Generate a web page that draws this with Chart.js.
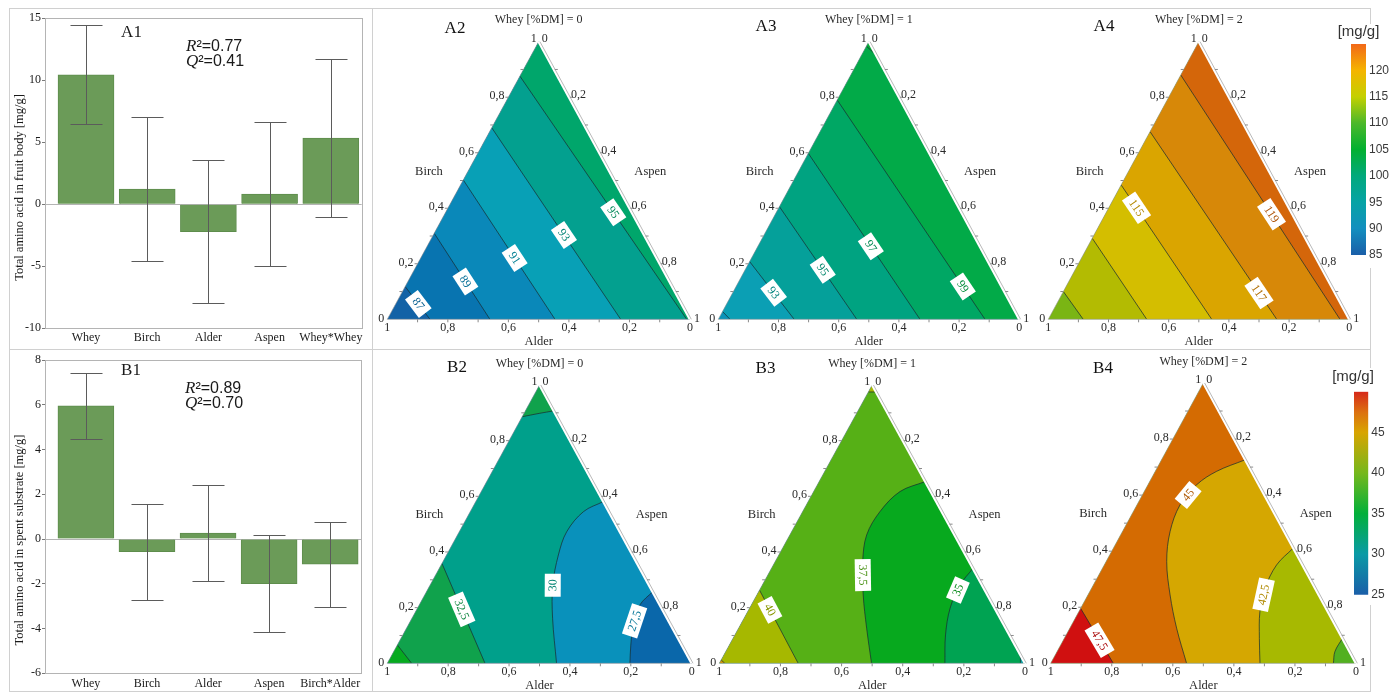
<!DOCTYPE html>
<html>
<head>
<meta charset="utf-8">
<script src="https://cdn.jsdelivr.net/npm/chart.js@4.4.1/dist/chart.umd.min.js"></script>
<style>
  html, body { margin: 0; padding: 0; background: #fff; }
  #page { position: relative; width: 1396px; height: 695px; overflow: hidden; background: #fff; }
  #page canvas { position: absolute; }
  .rule { position: absolute; background: #d0d0d0; }
</style>
</head>
<body>
<div id="page">
  <div class="rule" style="left:9px;top:8px;width:1362px;height:1px"></div>
  <div class="rule" style="left:9px;top:691px;width:1362px;height:1px"></div>
  <div class="rule" style="left:9px;top:8px;width:1px;height:684px"></div>
  <div class="rule" style="left:1370px;top:8px;width:1px;height:684px"></div>
  <div class="rule" style="left:372px;top:8px;width:1px;height:684px"></div>
  <div class="rule" style="left:9px;top:349px;width:1362px;height:1px"></div>
</div>
<script>
// ---------------- model coefficients (effect plots) ----------------
const fruitTerms = ['Whey', 'Birch', 'Alder', 'Aspen', 'Whey*Whey'];
const fruitCoef = [10.45, 1.23, -2.2, 0.83, 5.35];
const fruitConf = [3.97, 5.8, 5.77, 5.82, 6.35];
const fruitFit = ['0.77', '0.41'];          // R², Q²
const fruitAxis = [-10, 15, 5];             // min, max, step

const substrateTerms = ['Whey', 'Birch', 'Alder', 'Aspen', 'Birch*Alder'];
const substrateCoef = [5.95, -0.57, 0.27, -2.0, -1.12];
const substrateConf = [1.47, 2.14, 2.14, 2.16, 1.9];
const substrateFit = ['0.89', '0.70'];
const substrateAxis = [-6, 8, 2];

// ---------------- response contours (mixture triangles) ----------------
// Whey level of each slice, in %DM
const wheySlices = [0, 1, 2];
// Each contour is a list of [birch, aspen] fractions (alder = 1 - birch - aspen).
// Points run so that the higher response lies on the side met when following
// the triangle counter-clockwise from the last point back to the first.
const fruitW0Levels = [87, 89, 91, 93, 95];
const fruitW0Paths = [
  [[0.118, 0], [0, 0.141]],
  [[0.31, 0], [0, 0.339]],
  [[0.502, 0], [0, 0.554]],
  [[0.69, 0], [0, 0.771]],
  [[0.876, 0], [0, 0.989]]
];
const fruitW1Levels = [91, 93, 95, 97, 99, 101];
const fruitW1Paths = [
  [[0.028, 0], [0, 0.039]],
  [[0.208, 0], [0, 0.252]],
  [[0.406, 0], [0, 0.46]],
  [[0.598, 0], [0, 0.67]],
  [[0.79, 0], [0, 0.886]],
  [[0.984, 0], [0.952, 0.048]]
];
const fruitW2Levels = [111, 113, 115, 117, 119];
const fruitW2Paths = [
  [[0.1, 0], [0, 0.116]],
  [[0.292, 0], [0, 0.327]],
  [[0.484, 0], [0, 0.543]],
  [[0.676, 0], [0, 0.759]],
  [[0.88, 0], [0, 0.969]]
];
const substrateW0Levels = [27.5, 30, 32.5, 32.5, 35];
const substrateW0Paths = [
  [[0, 0.797], [0.066, 0.767], [0.138, 0.739], [0.21, 0.725], [0.257, 0.743]],
  [[0, 0.556], [0.162, 0.462], [0.281, 0.403], [0.389, 0.3675], [0.473, 0.353], [0.545, 0.372], [0.581, 0.419]],
  [[0, 0.321], [0.359, 0]],
  [[0.886, 0], [0.898, 0.05], [0.907, 0.093]],
  [[0, 0.08], [0.066, 0]]
];
const substrateW1Levels = [32.5, 35, 37.5, 40, 40, 42.5];
const substrateW1Paths = [
  [[0, 0.985], [0.03, 0.97]],
  [[0, 0.738], [0.102, 0.689], [0.198, 0.656], [0.281, 0.647], [0.341, 0.659]],
  [[0, 0.498], [0.126, 0.419], [0.2455, 0.348], [0.365, 0.2865], [0.461, 0.2515], [0.545, 0.253], [0.617, 0.2825], [0.653, 0.347]],
  [[0, 0.258], [0.263, 0]],
  [[0.975, 0], [0.975, 0.025]],
  [[0, 0.018], [0.012, 0]]
];
const substrateW2Levels = [40, 42.5, 45, 47.5];
const substrateW2Paths = [
  [[0, 0.926], [0.042, 0.91], [0.089, 0.911]],
  [[0, 0.6856], [0.089, 0.639], [0.1845, 0.593], [0.268, 0.568], [0.351, 0.5645], [0.411, 0.589]],
  [[0, 0.445], [0.125, 0.35], [0.244, 0.269], [0.363, 0.1985], [0.47, 0.156], [0.565, 0.141], [0.637, 0.1595], [0.685, 0.2012], [0.726, 0.274]],
  [[0, 0.205], [0.196, 0]]
];

// colour-bar ranges: min, max, step
const fruitScale = [85, 125, 5];
const substrateScale = [25, 50, 5];

// ---------------- styles ----------------
const SERIF = '"Liberation Serif", "Times New Roman", serif';
const SANS = '"Liberation Sans", Arial, sans-serif';

const fruitRamp = [[85, '#1a5ea8'], [90, '#138fbf'], [95, '#06a3a5'], [100, '#02a97c'], [105, '#02b030'],
                   [110, '#4cb82a'], [115, '#c4d000'], [120, '#f5b400'], [125, '#f26818']];
const substrateRamp = [[25, '#1a5ea8'], [30, '#0a9aa6'], [35, '#02b03a'], [40, '#76b81c'], [45, '#d8a400'],
                       [47.5, '#dc7010'], [50, '#d6281a']];

const fruitW0Style = { base: '#1262a6', fills: ['#0874b0', '#0a88b9', '#08a0b6', '#03a08f', '#00a66b'],
                       labelAt: [0.53, 0.56, 0.56, 0.56, 0.56] };
const fruitW1Style = { base: '#0a93b8', fills: ['#0b9fb4', '#05a09a', '#00a381', '#00a764', '#02aa48', '#06ac38'],
                       labelAt: [null, 0.54, 0.56, 0.56, 0.85, null] };
const fruitW2Style = { base: '#7ab514', fills: ['#b3bb02', '#d4be00', '#daa500', '#d78808', '#d4660a'],
                       labelAt: [null, null, 0.17, 0.86, 0.57] };
const substrateW0Style = { base: '#0a67aa', fills: ['#0991bb', '#00a08b', '#10a24c', '#10a24c', '#06aa20'],
                           labelAt: [0.55, 0.43, 0.54, null, null] };
const substrateW1Style = { base: '#0aa0a2', fills: ['#00a352', '#07a91e', '#56b016', '#a6b800', '#a6b800', '#d49400'],
                           labelAt: [null, 0.74, 0.42, 0.73, null, null] };
const substrateW2Style = { base: '#52b020', fills: ['#a7b901', '#d5a701', '#d46b02', '#d01010'],
                           labelAt: [null, 0.55, 0.72, 0.42] };

const page = document.getElementById('page');
function addCanvas(b) {
  const c = document.createElement('canvas');
  c.width = b.w; c.height = b.h;
  Object.assign(c.style, { left: b.x + 'px', top: b.y + 'px', width: b.w + 'px', height: b.h + 'px' });
  page.appendChild(c);
  return c;
}
function shade(hex, f) {
  const n = parseInt(hex.slice(1), 16);
  const r = Math.round(((n >> 16) & 255) * f), g = Math.round(((n >> 8) & 255) * f), b = Math.round((n & 255) * f);
  return `rgb(${r},${g},${b})`;
}

// ---------------- effect plots ----------------
function effectPanel(cfg) {
  const c = addCanvas(cfg.box);
  const bx = cfg.box.x, by = cfg.box.y, area = cfg.area;
  const [yMin, yMax, yStep] = cfg.axis;
  const decor = {
    id: 'effectDecor',
    afterDatasetsDraw(chart) {
      const { ctx } = chart, ys = chart.scales.y;
      ctx.save();
      ctx.strokeStyle = '#5b5b5b'; ctx.lineWidth = 1;
      chart.getDatasetMeta(0).data.forEach((bar, i) => {
        const x = Math.round(bar.x) + 0.5;
        const hi = Math.round(ys.getPixelForValue(cfg.coef[i] + cfg.conf[i])) + 0.5;
        const lo = Math.round(ys.getPixelForValue(cfg.coef[i] - cfg.conf[i])) + 0.5;
        ctx.beginPath();
        ctx.moveTo(x, hi); ctx.lineTo(x, lo);
        ctx.moveTo(x - 16, hi); ctx.lineTo(x + 16, hi);
        ctx.moveTo(x - 16, lo); ctx.lineTo(x + 16, lo);
        ctx.stroke();
      });
      ctx.restore();
    },
    afterDraw(chart) {
      const { ctx, chartArea: a } = chart;
      ctx.save();
      ctx.strokeStyle = '#b4b4b4'; ctx.lineWidth = 1;
      ctx.strokeRect(Math.round(a.left) + 0.5, Math.round(a.top) + 0.5, Math.round(a.right - a.left), Math.round(a.bottom - a.top));
      ctx.fillStyle = '#1a1a1a'; ctx.textBaseline = 'middle';
      ctx.save();
      ctx.translate(cfg.titleAt[0] - bx, cfg.titleAt[1] - by);
      ctx.rotate(-Math.PI / 2);
      ctx.font = `${cfg.titleSize}px ${SERIF}`; ctx.textAlign = 'center';
      ctx.fillText(cfg.title, 0, 0);
      ctx.restore();
      ctx.font = `17px ${SERIF}`; ctx.textAlign = 'center';
      ctx.fillText(cfg.tag, cfg.tagAt[0] - bx, cfg.tagAt[1] - by);
      ['R', 'Q'].forEach((sym, k) => {
        let x = cfg.fitAt[0] - bx;
        const y = cfg.fitAt[1] + k * 15 - by;
        ctx.textAlign = 'left';
        ctx.font = `italic 17px ${SERIF}`;
        ctx.fillText(sym, x, y);
        x += ctx.measureText(sym).width;
        ctx.font = `16px ${SANS}`;
        ctx.fillText('\u00B2=' + cfg.fit[k], x, y);
      });
      ctx.restore();
    }
  };
  new Chart(c, {
    type: 'bar',
    data: { datasets: [{ data: cfg.coef.map((v, i) => ({ x: i, y: v })), backgroundColor: '#6b9b58',
                         borderColor: '#5e8d4c', borderWidth: 1, barThickness: 56 }] },
    options: {
      responsive: false, animation: false, events: [],
      layout: { padding: { left: 0, right: bx + cfg.box.w - area.right, top: area.top - by, bottom: 0 } },
      scales: {
        x: {
          type: 'linear', min: -0.67, max: 4.505, offset: false,
          grid: { display: false, drawTicks: false, offset: false }, border: { display: false },
          afterBuildTicks: s => { s.ticks = cfg.terms.map((_, i) => ({ value: i })); },
          afterFit: s => { s.height = by + cfg.box.h - area.bottom; },
          ticks: { autoSkip: false, maxRotation: 0, padding: cfg.xPad, color: '#1a1a1a',
                   font: { family: SERIF, size: 12 }, callback: v => cfg.terms[v] }
        },
        y: {
          min: yMin, max: yMax,
          afterFit: s => { s.width = area.left - bx; },
          ticks: { stepSize: yStep, padding: 1, color: '#1a1a1a', font: { family: SERIF, size: 12 } },
          grid: { color: g => (g.tick && g.tick.value === 0 ? '#b4b4b4' : 'rgba(0,0,0,0)'),
                  tickColor: '#7a7a7a', tickLength: 3, drawTicks: true },
          border: { display: false }
        }
      },
      plugins: { legend: { display: false }, tooltip: { enabled: false } }
    },
    plugins: [decor]
  });
}

// ---------------- colour bars ----------------
function colorBar(cfg) {
  const c = addCanvas(cfg.box);
  const [lo, hi, step] = cfg.range;
  const bx = cfg.box.x, by = cfg.box.y, a = cfg.area;
  new Chart(c, {
    type: 'bar',
    data: { labels: [''], datasets: [{
      data: [[lo, hi]], borderWidth: 0, barPercentage: 1, categoryPercentage: 1,
      backgroundColor: ctx => {
        const ch = ctx.chart;
        if (!ch.chartArea) return cfg.ramp[0][1];
        const ys = ch.scales.y;
        const g = ch.ctx.createLinearGradient(0, ys.getPixelForValue(lo), 0, ys.getPixelForValue(hi));
        cfg.ramp.forEach(([v, col]) => g.addColorStop((v - lo) / (hi - lo), col));
        return g;
      }
    }] },
    options: {
      responsive: false, animation: false, events: [],
      layout: { padding: { left: a.left - bx, top: a.top - by, bottom: by + cfg.box.h - a.bottom, right: 0 } },
      scales: {
        x: { display: false },
        y: { position: 'right', min: lo, max: hi,
             afterFit: s => { s.width = bx + cfg.box.w - a.right; },
             grid: { display: false, drawTicks: false }, border: { display: false },
             ticks: { stepSize: step, padding: 3, color: '#3a3a3a', font: { family: SANS, size: 12 },
                      callback: v => (v === hi ? '' : v) } }
      },
      plugins: { legend: { display: false }, tooltip: { enabled: false } }
    },
    plugins: [{
      id: 'barDecor',
      beforeDraw(ch) { const ctx = ch.ctx; ctx.save(); ctx.fillStyle = '#fff'; ctx.fillRect(0, 0, ch.width, ch.height); ctx.restore(); },
      afterDraw(ch) {
        const ctx = ch.ctx; ctx.save();
        ctx.font = `15px ${SANS}`; ctx.fillStyle = '#333'; ctx.textAlign = 'center'; ctx.textBaseline = 'middle';
        ctx.fillText('[mg/g]', cfg.unitAt[0] - bx, cfg.unitAt[1] - by);
        ctx.restore();
      }
    }]
  });
}

// ---------------- mixture triangles ----------------
const toXY = p => ({ x: p[1] + p[0] / 2, y: p[0] });
function edgeParam(p) {
  const b = p[0], a = p[1], l = 1 - a - b, m = Math.min(a, b, l);
  if (m === b) return a;          // bottom edge, BL -> BR
  if (m === l) return 1 + b;      // right edge, BR -> top
  return 3 - b;                   // left edge, top -> BL
}
function cornersAfter(path) {
  const s0 = edgeParam(path[0]), s1 = edgeParam(path[path.length - 1]);
  const target = s0 <= s1 ? s0 + 3 : s0;
  const out = [];
  for (let k = 1; k <= 5; k++) if (k > s1 && k < target) out.push(k % 3);
  return out;
}
const fmt = v => String(v).replace('.', ',');

function ternaryPanel(p) {
  const c = addCanvas(p.box);
  const bx = p.box.x, by = p.box.y, t = p.tri, st = p.style;
  const verts = chart => {
    const xs = chart.scales.x, ys = chart.scales.y;
    return [{ x: xs.getPixelForValue(0), y: ys.getPixelForValue(0) },
            { x: xs.getPixelForValue(1), y: ys.getPixelForValue(0) },
            { x: xs.getPixelForValue(0.5), y: ys.getPixelForValue(1) }];
  };
  const lerp = (A, B, f) => ({ x: A.x + (B.x - A.x) * f, y: A.y + (B.y - A.y) * f });
  const plugin = {
    id: 'ternary',
    beforeDatasetsDraw(chart) {
      const ctx = chart.ctx, V = verts(chart), a = chart.chartArea;
      ctx.save();
      ctx.beginPath(); ctx.moveTo(V[0].x, V[0].y); ctx.lineTo(V[1].x, V[1].y); ctx.lineTo(V[2].x, V[2].y); ctx.closePath();
      ctx.clip();
      ctx.fillStyle = st.base; ctx.fillRect(a.left - 2, a.top - 2, a.right - a.left + 4, a.bottom - a.top + 4);
      p.paths.forEach((path, i) => {
        const line = chart.getDatasetMeta(i).dataset;
        line.updateControlPoints(chart.chartArea, 'x');
        ctx.beginPath();
        line.path(ctx);
        cornersAfter(path).forEach(k => ctx.lineTo(V[k].x, V[k].y));
        ctx.closePath();
        ctx.fillStyle = st.fills[i];
        ctx.fill();
      });
    },
    afterDatasetsDraw(chart) {
      const ctx = chart.ctx; ctx.restore();
      const V = verts(chart), [BL, BR, T] = V;
      ctx.save();
      // triangle outline
      ctx.lineWidth = 1; ctx.strokeStyle = 'rgba(150,150,150,0.6)';
      ctx.beginPath(); ctx.moveTo(T.x, T.y); ctx.lineTo(BL.x, BL.y); ctx.lineTo(BR.x, BR.y); ctx.stroke();
      ctx.lineWidth = 2.5; ctx.strokeStyle = '#ffffff';
      ctx.beginPath(); ctx.moveTo(BR.x, BR.y); ctx.lineTo(T.x, T.y); ctx.stroke();
      ctx.lineWidth = 1; ctx.strokeStyle = '#b9b9b9';
      ctx.beginPath(); ctx.moveTo(BR.x + 1.3, BR.y); ctx.lineTo(T.x + 1.3, T.y); ctx.stroke();
      // ticks
      ctx.strokeStyle = '#8a8a8a'; ctx.lineWidth = 1;
      ctx.beginPath();
      for (let k = 1; k <= 9; k++) {
        const f = k / 10;
        const L = lerp(BL, T, f), R = lerp(T, BR, f), B = lerp(BR, BL, f);
        ctx.moveTo(L.x, L.y); ctx.lineTo(L.x - 3, L.y);
        ctx.moveTo(R.x + 1, R.y); ctx.lineTo(R.x + 4, R.y);
        ctx.moveTo(B.x, B.y); ctx.lineTo(B.x, B.y + 3);
      }
      ctx.stroke();
      // tick labels
      ctx.fillStyle = '#2a2a2a'; ctx.textBaseline = 'middle'; ctx.font = `12px ${SERIF}`;
      for (let k = 2; k <= 8; k += 2) {
        const f = k / 10, s = fmt(f.toFixed(1));
        const L = lerp(BL, T, f), R = lerp(T, BR, f), B = lerp(BR, BL, f);
        ctx.textAlign = 'right'; ctx.fillText(s, L.x - 4, L.y - 1);
        ctx.textAlign = 'left'; ctx.fillText(s, R.x + 2, R.y - 2);
        ctx.textAlign = 'center'; ctx.fillText(s, B.x, B.y + 9);
      }
      ctx.textAlign = 'right'; ctx.fillText('0', BL.x - 3, BL.y); ctx.fillText('1', T.x - 2, T.y - 3);
      ctx.textAlign = 'left'; ctx.fillText('0', T.x + 3, T.y - 3); ctx.fillText('1', BR.x + 4, BR.y);
      ctx.textAlign = 'center'; ctx.fillText('1', BL.x, BL.y + 9); ctx.fillText('0', BR.x, BR.y + 9);
      // component names, slice title, panel tag
      const ML = lerp(BL, T, 0.5), MR = lerp(T, BR, 0.5);
      ctx.font = `12.5px ${SERIF}`;
      ctx.fillText('Birch', ML.x - 34, ML.y - 9);
      ctx.fillText('Aspen', MR.x + 36, MR.y - 9);
      ctx.fillText('Alder', (BL.x + BR.x) / 2, BL.y + 22);
      ctx.font = `12px ${SERIF}`;
      ctx.fillText(`Whey [%DM] = ${p.whey}`, T.x, T.y - 21.5);
      ctx.font = `17px ${SERIF}`; ctx.fillStyle = '#111';
      ctx.fillText(p.tag, p.tagAt[0] - bx, p.tagAt[1] - by);
      // contour value labels
      p.levels.forEach((lev, i) => {
        const at = st.labelAt[i];
        if (at == null) return;
        const pts = chart.getDatasetMeta(i).data.map(e => ({ x: e.x, y: e.y }));
        const seg = []; let total = 0;
        for (let j = 1; j < pts.length; j++) { const d = Math.hypot(pts[j].x - pts[j - 1].x, pts[j].y - pts[j - 1].y); seg.push(d); total += d; }
        let rem = at * total, j = 0;
        while (j < seg.length - 1 && rem > seg[j]) { rem -= seg[j]; j++; }
        const A = pts[j], B = pts[j + 1];
        const pos = lerp(A, B, seg[j] ? rem / seg[j] : 0);
        let ang = Math.atan2(B.y - A.y, B.x - A.x);
        if (ang > Math.PI / 2) ang -= Math.PI;
        if (ang < -Math.PI / 2) ang += Math.PI;
        const label = fmt(lev);
        ctx.save();
        ctx.translate(pos.x, pos.y); ctx.rotate(ang);
        ctx.font = `12px ${SERIF}`;
        const w = ctx.measureText(label).width + 11;
        ctx.fillStyle = '#ffffff'; ctx.fillRect(-w / 2, -8, w, 16);
        ctx.fillStyle = shade(st.fills[i], 0.82); ctx.textAlign = 'center'; ctx.textBaseline = 'middle';
        ctx.fillText(label, 0, 0.5);
        ctx.restore();
      });
      ctx.restore();
    }
  };
  new Chart(c, {
    type: 'scatter',
    data: { datasets: p.paths.map(path => ({
      data: path.map(toXY), showLine: true, pointRadius: 0, borderWidth: 1,
      borderColor: 'rgba(25,45,50,0.72)', tension: path.length > 2 ? 0.35 : 0, fill: false
    })) },
    options: {
      responsive: false, animation: false, events: [],
      layout: { padding: { left: t.left - bx, right: bx + p.box.w - t.right, top: t.top - by, bottom: by + p.box.h - t.bottom } },
      scales: { x: { type: 'linear', min: 0, max: 1, display: false }, y: { type: 'linear', min: 0, max: 1, display: false } },
      plugins: { legend: { display: false }, tooltip: { enabled: false } }
    },
    plugins: [plugin]
  });
}

// ---------------- layout ----------------
effectPanel({ box: { x: 9, y: 9, w: 363, h: 339 }, area: { left: 45, right: 361.7, top: 18.3, bottom: 328.3 },
  terms: fruitTerms, coef: fruitCoef, conf: fruitConf, axis: fruitAxis, fit: fruitFit, xPad: 2,
  title: 'Total amino acid in fruit body [mg/g]', titleSize: 12.5, titleAt: [20, 187.5],
  tag: 'A1', tagAt: [131.5, 33], fitAt: [186, 46.5] });
effectPanel({ box: { x: 9, y: 350, w: 363, h: 341 }, area: { left: 45, right: 361, top: 360, bottom: 673.3 },
  terms: substrateTerms, coef: substrateCoef, conf: substrateConf, axis: substrateAxis, fit: substrateFit, xPad: 3,
  title: 'Total amino acid in spent substrate [mg/g]', titleSize: 12.5, titleAt: [20, 540],
  tag: 'B1', tagAt: [131, 370.5], fitAt: [185, 388.5] });

colorBar({ box: { x: 1334, y: 24, w: 62, h: 244 }, area: { left: 1351, right: 1366, top: 44, bottom: 255 },
  range: fruitScale, ramp: fruitRamp, unitAt: [1358.5, 31.5] });
colorBar({ box: { x: 1328, y: 368, w: 68, h: 237 }, area: { left: 1354, right: 1368.3, top: 391.7, bottom: 596.7 },
  range: substrateScale, ramp: substrateRamp, unitAt: [1353, 377] });

const panels = [
  { box: { x: 373, y: 9, w: 345, h: 339 }, tri: { left: 387.3, right: 690, top: 41.7, bottom: 319.3 },
    tag: 'A2', tagAt: [455, 29], whey: wheySlices[0], levels: fruitW0Levels, paths: fruitW0Paths, style: fruitW0Style },
  { box: { x: 703, y: 9, w: 345, h: 339 }, tri: { left: 718.3, right: 1019.3, top: 41.7, bottom: 319.3 },
    tag: 'A3', tagAt: [766, 27], whey: wheySlices[1], levels: fruitW1Levels, paths: fruitW1Paths, style: fruitW1Style },
  { box: { x: 1033, y: 9, w: 345, h: 339 }, tri: { left: 1048.3, right: 1349.3, top: 41.7, bottom: 319.3 },
    tag: 'A4', tagAt: [1104, 27], whey: wheySlices[2], levels: fruitW2Levels, paths: fruitW2Paths, style: fruitW2Style },
  { box: { x: 373, y: 350, w: 345, h: 345 }, tri: { left: 387.3, right: 691.7, top: 385, bottom: 663.3 },
    tag: 'B2', tagAt: [457, 367.5], whey: wheySlices[0], levels: substrateW0Levels, paths: substrateW0Paths, style: substrateW0Style },
  { box: { x: 703, y: 350, w: 345, h: 345 }, tri: { left: 719.3, right: 1025, top: 385, bottom: 663.3 },
    tag: 'B3', tagAt: [765.5, 369], whey: wheySlices[1], levels: substrateW1Levels, paths: substrateW1Paths, style: substrateW1Style },
  { box: { x: 1033, y: 350, w: 345, h: 345 }, tri: { left: 1050.7, right: 1356, top: 383, bottom: 663.3 },
    tag: 'B4', tagAt: [1103, 368.5], whey: wheySlices[2], levels: substrateW2Levels, paths: substrateW2Paths, style: substrateW2Style }
];
panels.forEach(ternaryPanel);
</script>
</body>
</html>
